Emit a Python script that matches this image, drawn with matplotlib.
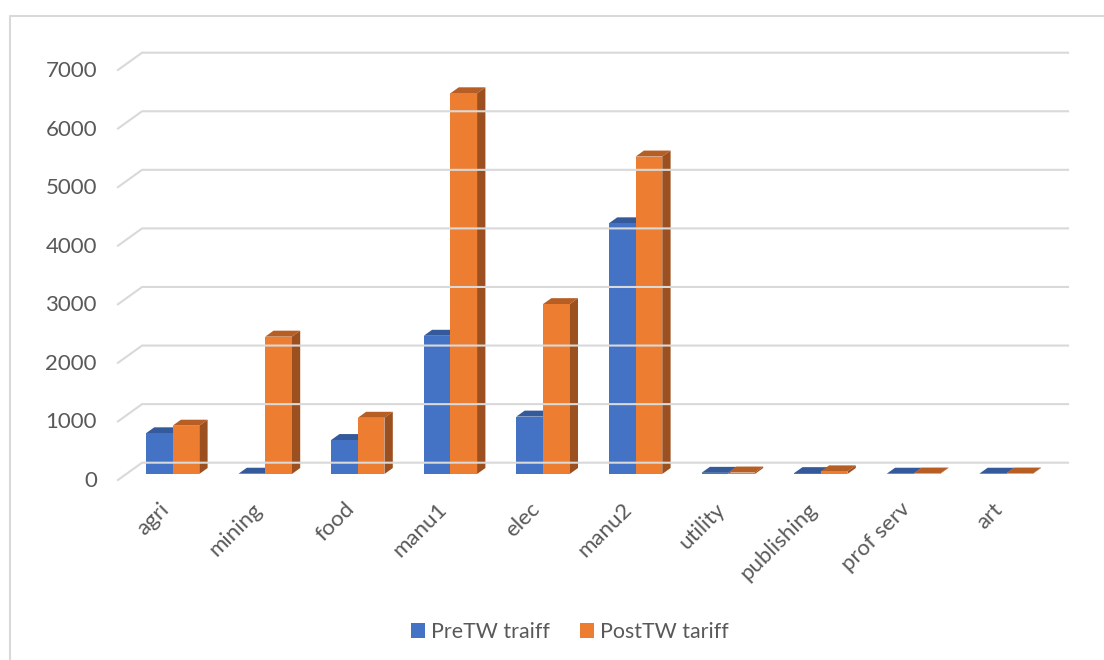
import numpy as np
import matplotlib.pyplot as plt
from matplotlib.patches import Polygon, Patch
from matplotlib.lines import Line2D
from matplotlib.transforms import ScaledTranslation

plt.rcParams['font.family'] = ['Lato', 'DejaVu Sans']

# sector values
sectors = ['agri', 'mining', 'food', 'manu1', 'elec', 'manu2',
           'utility', 'publishing', 'prof serv', 'art']
pre_tw = [695, 5, 580, 2360, 980, 4280, 20, 15, 5, 5]
post_tw = [825, 2345, 960, 6500, 2900, 5420, 25, 45, 8, 8]
y_ticks = [0, 1000, 2000, 3000, 4000, 5000, 6000, 7000]
series_names = ['PreTW traiff', 'PostTW tariff']

# colours: front, top, side
blue = ('#4472C4', '#345A9C', '#2C4F8A')
orange = ('#ED7D31', '#B65E24', '#9C501F')
grid_col = '#D9D9D9'
text_col = '#595959'

W, H = 1104, 660
fig = plt.figure(figsize=(W / 100, H / 100), dpi=100)

# axes spans the plane of the bar fronts
ax = fig.add_axes([126.3 / W, 186 / H, 926 / W, 410 / H])
ax.set_xlim(-0.5, 9.5)
ax.set_ylim(0, 7000)
ax.axis('off')

# oblique offsets (x in category units, y in value units)
back_dx, back_dy = 0.17, 193
front_dx, front_dy = -0.09, -102
depth_dx, depth_dy = 0.09, 102
bw = 0.288

# walls: back gridlines + left diagonals
for v in y_ticks:
    ax.add_line(Line2D([-0.5 + front_dx, -0.5 + back_dx, 9.5 + back_dx],
                       [v + front_dy, v + back_dy, v + back_dy],
                       color=grid_col, lw=1.5, clip_on=False,
                       solid_joinstyle='miter'))

lab_off = ax.transData + ScaledTranslation(-21 / 100, 1 / 100, fig.dpi_scale_trans)
for v in y_ticks:
    ax.text(-0.5 + front_dx, v + front_dy, str(v), transform=lab_off,
            ha='right', va='center_baseline', fontsize=16, color=text_col)


def bar3d(x0, h, cols):
    front, top, side = cols
    x1 = x0 + bw
    ax.add_patch(Polygon([(x0, h), (x1, h), (x1 + depth_dx, h + depth_dy),
                          (x0 + depth_dx, h + depth_dy)],
                         closed=True, fc=top, ec='none', clip_on=False))
    ax.add_patch(Polygon([(x1, 0), (x1 + depth_dx, depth_dy),
                          (x1 + depth_dx, h + depth_dy), (x1, h)],
                         closed=True, fc=side, ec='none', clip_on=False))
    ax.add_patch(Polygon([(x0, 0), (x1, 0), (x1, h), (x0, h)],
                         closed=True, fc=front, ec='none', clip_on=False))


for i in range(len(sectors)):
    bar3d(i - bw, pre_tw[i], blue)
    bar3d(i, post_tw[i], orange)

# category labels
xlab_off = ax.transData + ScaledTranslation(0, -32 / 100, fig.dpi_scale_trans)
for i, s in enumerate(sectors):
    ax.text(i - 0.07, 0, s, transform=xlab_off, rotation=45,
            rotation_mode='anchor', ha='right', va='center',
            fontsize=16, color=text_col)

handles = [Patch(fc=blue[0], ec='none'), Patch(fc=orange[0], ec='none')]
fig.legend(handles, series_names, loc='center',
           bbox_to_anchor=(570 / W, 1 - 632 / H), ncol=2, frameon=False,
           fontsize=15.4, labelcolor=text_col, handlelength=0.65,
           handleheight=0.65, handletextpad=0.3, columnspacing=1.4)

# chart border
fig.add_artist(Line2D([9.5 / W, 9.5 / W, 1.0], [0, 1 - 16 / H, 1 - 16 / H],
                      transform=fig.transFigure, color=grid_col, lw=1.5))

fig.savefig('out.png', dpi=100, facecolor='white')
